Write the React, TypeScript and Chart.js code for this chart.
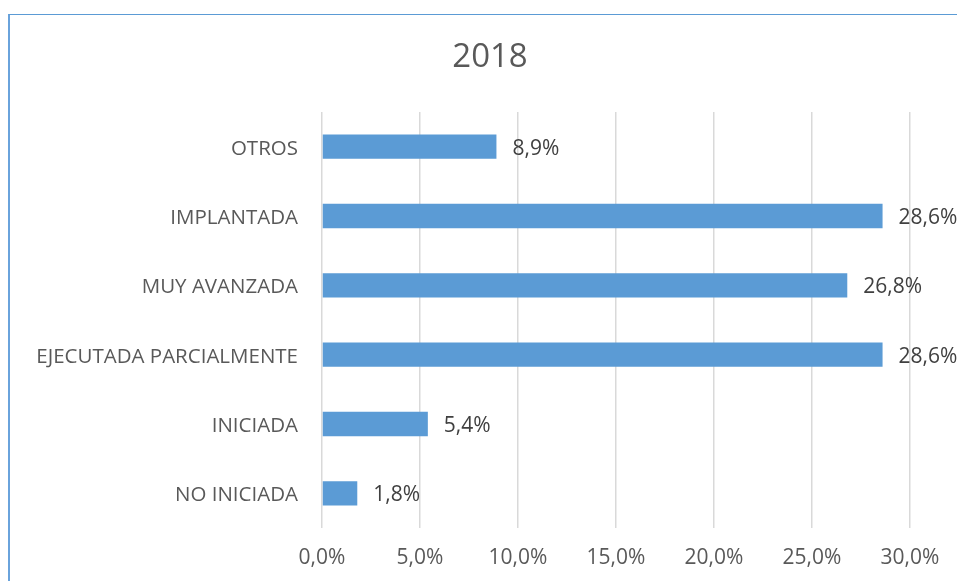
import React, { useEffect, useRef } from "react";
import { Chart, registerables } from "chart.js";

Chart.register(...registerables);

const title = "2018";
const categories = ["OTROS", "IMPLANTADA", "MUY AVANZADA", "EJECUTADA PARCIALMENTE", "INICIADA", "NO INICIADA"];
const values = [8.9, 28.6, 26.8, 28.6, 5.4, 1.8];
const xMin = 0;
const xMax = 30;
const xStep = 5;

const fmt = (v: number) => v.toFixed(1).replace(".", ",") + "%";

const FONT = "'Open Sans', sans-serif";

const valueLabels = {
  id: "valueLabels",
  afterDatasetsDraw(chart: any) {
    const ctx = chart.ctx;
    const meta = chart.getDatasetMeta(0);
    ctx.save();
    ctx.font = `21px ${FONT}`;
    ctx.fillStyle = "#404040";
    ctx.textAlign = "left";
    ctx.textBaseline = "middle";
    meta.data.forEach((bar: any, i: number) => {
      ctx.fillText(fmt(values[i]), bar.x + 16, bar.y + 2);
    });
    ctx.restore();
  },
};

const chartTitle = {
  id: "chartTitle",
  afterDraw(chart: any) {
    const ctx = chart.ctx;
    ctx.save();
    ctx.font = `33px ${FONT}`;
    ctx.fillStyle = "#595959";
    ctx.textAlign = "center";
    ctx.textBaseline = "middle";
    ctx.fillText(title, 490, 58);
    ctx.restore();
  },
};

export default function App() {
  const ref = useRef<HTMLCanvasElement>(null);
  useEffect(() => {
    if (!ref.current) return;
    const chart = new Chart(ref.current, {
      type: "bar",
      data: {
        labels: categories,
        datasets: [
          {
            data: values,
            backgroundColor: "#5b9bd5",
            barPercentage: 0.7,
            categoryPercentage: 0.5,
          },
        ],
      },
      options: {
        indexAxis: "y",
        animation: false,
        responsive: false,
        maintainAspectRatio: false,
        layout: { padding: { left: 0, right: 47, top: 112, bottom: 0 } },
        plugins: {
          legend: { display: false },
          tooltip: { enabled: false },
          title: { display: false },
        },
        scales: {
          x: {
            min: xMin,
            max: xMax,
            ticks: {
              stepSize: xStep,
              color: "#595959",
              font: { family: FONT, size: 21 },
              padding: 17,
              callback: (v: any) => fmt(Number(v)),
            },
            grid: { color: "#d9d9d9", lineWidth: 1.5, drawTicks: false },
            border: { display: false },
            afterFit: (s: any) => {
              s.height = 53;
            },
          },
          y: {
            ticks: {
              color: "#595959",
              font: { family: FONT, size: 20.5 },
              padding: 24,
              labelOffset: 2,
            },
            grid: { display: false, drawTicks: false },
            border: { display: false },
            afterFit: (s: any) => {
              s.width = 322;
            },
          },
        },
      },
      plugins: [valueLabels, chartTitle],
    });
    return () => chart.destroy();
  }, []);

  return (
    <div
      style={{
        position: "fixed",
        left: 0,
        top: 0,
        width: 957,
        height: 581,
        overflow: "hidden",
        background: "#ffffff",
      }}
    >
      <div
        style={{
          position: "absolute",
          left: 8,
          top: 14,
          width: 1200,
          height: 800,
          borderLeft: "2px solid #6aa3dc",
          borderTop: "1.5px solid #5b9bd5",
        }}
      />
      <canvas
        ref={ref}
        width={957}
        height={581}
        style={{ position: "absolute", left: 0, top: 0, width: 957, height: 581 }}
      />
    </div>
  );
}
